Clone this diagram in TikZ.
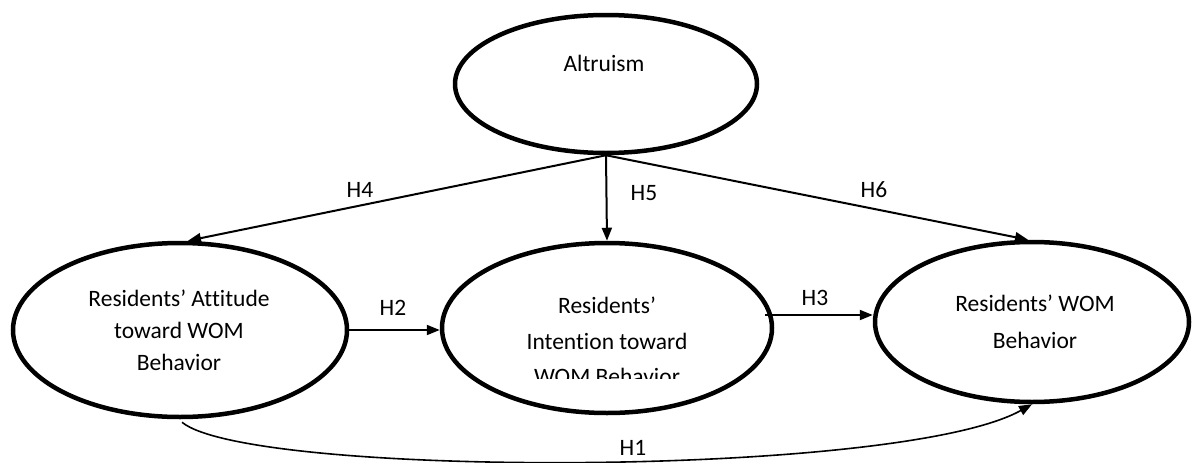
\documentclass[tikz,border=0pt]{standalone}
\usepackage{fontspec}
\setmainfont{Carlito}[Ligatures={NoCommon}]
\usetikzlibrary{shapes.geometric,arrows.meta}
\begin{document}
\begin{tikzpicture}[x=1pt,y=-1pt,
  construct/.style={draw,ellipse,line width=4.5pt,inner sep=0pt},
  txt/.style={font=\fontsize{23.5}{28}\selectfont,inner sep=0pt,anchor=center},
  hyp/.style={font=\fontsize{23.5}{28}\selectfont,inner sep=0pt},
  link/.style={line width=2pt,-{Triangle[length=13pt,width=10pt]}},
  curvelink/.style={line width=1.6pt,-{Triangle[length=13pt,width=10pt]}}]
\useasboundingbox (0,0) rectangle (1192,463);
% constructs
\node[construct,minimum width=302pt,minimum height=138pt] (alt) at (606,84) {};
\node[construct,minimum width=334pt,minimum height=174pt] (att) at (180,330) {};
\node[construct,minimum width=330pt,minimum height=170pt] (int) at (607,328) {};
\node[construct,minimum width=314pt,minimum height=160pt] (beh) at (1032,322) {};
% texts
\node[txt] (altT) at (604,63) {Altruism};
\node[txt] (attT1) at (179,298) {Residents’ Attitude};
\node[txt] (attT2) at (179,330) {toward WOM};
\node[txt] (attT3) at (179,362) {Behavior};
\node[txt] (intT1) at (607,305) {Residents’};
\node[txt] (intT2) at (607,341) {Intention toward};
\begin{scope}
\clip (450,250) rectangle (770,378);
\node[txt] (intT3) at (607,376) {WOM Behavior};
\end{scope}
\node[txt] (behT1) at (1035,303) {Residents’ WOM};
\node[txt] (behT2) at (1035,340) {Behavior};
% connectors
\draw[link] (alt.south) -- ([xshift=8pt]att.north);
\draw[link] (alt.south) -- (int.north);
\draw[link] (alt.south) -- ([xshift=-4pt]beh.north);
\draw[link] (att.east) -- (att.east -| int.west);
\draw[link] ([xshift=-9pt,yshift=13pt]int.east) -- ([yshift=7pt]beh.west);
\draw[curvelink] ([xshift=2pt,yshift=-3pt]att.south) .. controls (250,478) and (900,478) .. (beh.south);
% hypothesis labels
\node[hyp] (h4) at (360,190) {H4};
\node[hyp] (h5) at (644,193) {H5};
\node[hyp] (h6) at (874,190) {H6};
\node[hyp] (h2) at (393,308) {H2};
\node[hyp] (h3) at (815,298) {H3};
\node[hyp] (h1) at (633,448) {H1};
\end{tikzpicture}
\end{document}
